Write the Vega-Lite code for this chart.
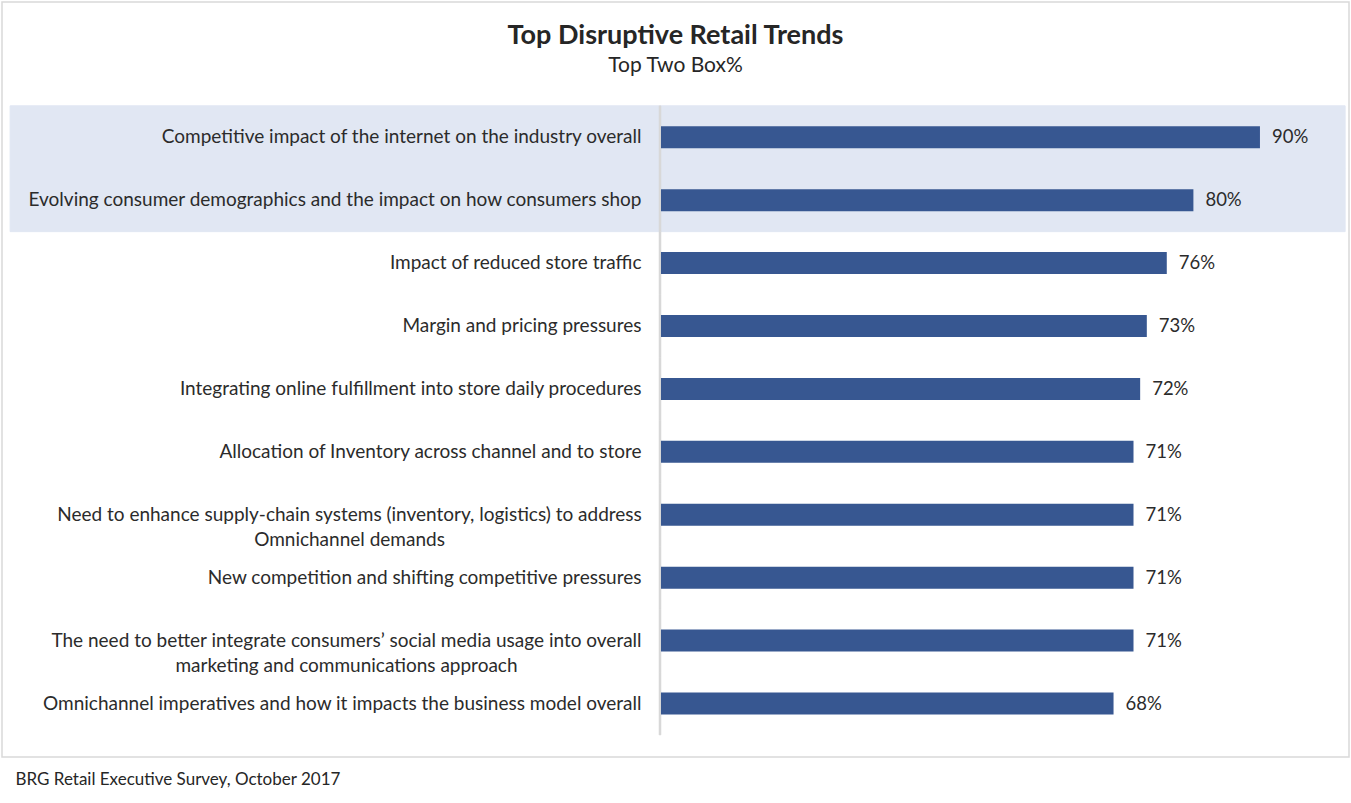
{
  "$schema": "https://vega.github.io/schema/vega-lite/v6.json",
  "autosize": "none",
  "width": 1347,
  "height": 755,
  "padding": {"left": 2, "top": 2, "right": 2, "bottom": 46},
  "background": "#ffffff",
  "config": {
    "font": "Lato",
    "view": {"stroke": "#d9d9d9", "strokeWidth": 1.5}
  },
  "title": {
    "text": "Top Disruptive Retail Trends",
    "subtitle": "Top Two Box%",
    "anchor": "middle",
    "frame": "group",
    "offset": -75,
    "font": "Lato",
    "fontSize": 27,
    "fontWeight": "bold",
    "color": "#262626",
    "subtitleFont": "Lato",
    "subtitleFontSize": 21,
    "subtitleColor": "#262626",
    "subtitlePadding": 5
  },
  "data": {
    "values": [
      {"trend": "Competitive impact of the internet on the industry overall", "share": 0.90, "highlight": true},
      {"trend": "Evolving consumer demographics and the impact on how consumers shop", "share": 0.80, "highlight": true},
      {"trend": "Impact of reduced store traffic", "share": 0.76, "highlight": false},
      {"trend": "Margin and pricing pressures", "share": 0.73, "highlight": false},
      {"trend": "Integrating online fulfillment into store daily procedures", "share": 0.72, "highlight": false},
      {"trend": "Allocation of Inventory across channel and to store", "share": 0.71, "highlight": false},
      {"trend": "Need to enhance supply-chain systems (inventory, logistics) to address\nOmnichannel demands", "share": 0.71, "highlight": false},
      {"trend": "New competition and shifting competitive pressures", "share": 0.71, "highlight": false},
      {"trend": "The need to better integrate consumers’ social media usage into overall\nmarketing and communications approach", "share": 0.71, "highlight": false},
      {"trend": "Omnichannel imperatives and how it impacts the business model overall", "share": 0.68, "highlight": false}
    ]
  },
  "encoding": {
    "y": {
      "field": "trend",
      "type": "nominal",
      "sort": null,
      "scale": {"paddingInner": 0, "paddingOuter": 1.011, "align": 0.825},
      "axis": {
        "title": null,
        "orient": "left",
        "offset": -659,
        "domain": false,
        "ticks": false,
        "zindex": 1,
        "labelFont": "Lato",
        "labelFontSize": 19,
        "labelColor": "#2b2b2b",
        "labelLimit": 1000,
        "labelLineHeight": 25,
        "labelExpr": "split(datum.value, '\\n')",
        "labelAlign": {"condition": {"test": "indexof(datum.value, '\\n') >= 0", "value": "center"}, "value": "right"},
        "labelPadding": {
          "condition": [
            {"test": "indexof(datum.value, 'Need to enhance') >= 0", "value": 312},
            {"test": "indexof(datum.value, 'The need') >= 0", "value": 315}
          ],
          "value": 20
        }
      }
    }
  },
  "layer": [
    {
      "transform": [{"filter": "datum.highlight"}],
      "mark": {"type": "rect", "color": "#e1e7f3", "stroke": "#e1e7f3", "strokeWidth": 1},
      "encoding": {
        "x": {
          "datum": -0.978,
          "type": "quantitative",
          "scale": {"domain": [-0.9902, 1.0338], "zero": false, "nice": false},
          "axis": {
            "orient": "bottom",
            "labels": false,
            "ticks": false,
            "domain": false,
            "grid": false,
            "title": "BRG Retail Executive Survey, October 2017",
            "titleFont": "Lato",
            "titleFontSize": 17,
            "titleFontWeight": "normal",
            "titleColor": "#262626",
            "titleAnchor": "start",
            "titleAlign": "left",
            "titleBaseline": "alphabetic",
            "titleX": 13,
            "titleY": 27
          }
        },
        "x2": {"datum": 1.028}
      }
    },
    {
      "mark": {"type": "rect", "color": "#d9d9d9", "stroke": "#d9d9d9", "strokeWidth": 0.5},
      "encoding": {
        "x": {"datum": -0.003, "type": "quantitative"},
        "x2": {"datum": 0}
      }
    },
    {
      "mark": {"type": "bar", "color": "#375791", "size": 22},
      "encoding": {
        "x": {"field": "share", "type": "quantitative"}
      }
    },
    {
      "mark": {"type": "text", "align": "left", "baseline": "middle", "dx": 12, "fontSize": 18.5, "color": "#2b2b2b", "font": "Lato"},
      "encoding": {
        "x": {"field": "share", "type": "quantitative"},
        "text": {"field": "share", "type": "quantitative", "format": ".0%"}
      }
    }
  ]
}
